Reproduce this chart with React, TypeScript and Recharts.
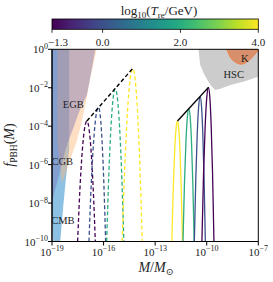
import React from 'react';
import { ComposedChart, Area, Line, XAxis, YAxis, ReferenceArea, ReferenceDot } from 'recharts';

// log10(M/Msun), lower log10 f, upper log10 f
type Band = [number, number, number][];
type Pts = [number, number][];

const cmbBand: Band = [
  [-19, -8.3, 0], [-18.93, -10, 0], [-18.52, -10, 0], [-18.35, -8.2, 0], [-18.2, -6.8, 0], [-18.0, -5.2, 0],
];
const cgbBand: Band = [
  [-18.7, -4.7, 0], [-18.42, -7.0, 0], [-18.0, -5.9, 0], [-17.55, -4.75, 0], [-17.3, -3.9, 0],
  [-17.0, -2.6, 0], [-16.75, -1.4, 0], [-16.48, -0.3, 0], [-16.4, 0, 0],
];
const egbBand: Band = [
  [-19, -7.9, 0], [-18.6, -6.6, 0], [-18.3, -5.5, 0], [-18.1, -4.9, 0], [-17.8, -4.2, 0],
  [-17.4, -3.2, 0], [-16.97, -2.38, 0], [-16.7, -1.1, 0], [-16.48, 0, 0],
];
const hscBand: Band = [
  [-10.48, 0, 0], [-10.38, -0.82, 0], [-10.15, -1.3, 0], [-9.9, -1.69, 0], [-9.7, -1.95, 0],
  [-9.51, -2.12, 0], [-9.2, -2.05, 0], [-8.75, -1.89, 0], [-8.3, -1.78, 0], [-7.88, -1.69, 0],
  [-7.4, -1.55, 0], [-7.0, -1.43, 0],
];
const kBand: Band = [
  [-8.83, 0, 0], [-8.63, -0.4, 0], [-8.34, -0.66, 0], [-7.99, -0.77, 0], [-7.59, -0.61, 0],
  [-7.24, -0.3, 0], [-7.0, -0.04, 0],
];

// log10(T_re/GeV) of each curve
const treDashed = [-1.3, 0, 2, 4];
const treSolid = [4, 2, 0, -1.3];

const dashedCurves: Pts[] = [
  [[-17.51, -10], [-17.375, -7.26], [-17.24, -5.3], [-17.105, -4.12], [-16.97, -3.73], [-16.848, -4.12], [-16.725, -5.3], [-16.603, -7.26], [-16.48, -10]],
  [[-16.85, -10], [-16.713, -6.94], [-16.575, -4.75], [-16.438, -3.44], [-16.3, -3.0], [-16.195, -3.44], [-16.09, -4.75], [-15.985, -6.94], [-15.88, -10]],
  [[-15.82, -10], [-15.695, -6.52], [-15.57, -4.04], [-15.445, -2.55], [-15.32, -2.05], [-15.195, -2.55], [-15.07, -4.04], [-14.945, -6.52], [-14.82, -10]],
  [[-14.92, -10], [-14.765, -6.06], [-14.61, -3.25], [-14.455, -1.56], [-14.3, -1.0], [-14.163, -1.56], [-14.025, -3.25], [-13.888, -6.06], [-13.75, -10]],
];
const solidCurves: Pts[] = [
  [[-12.03, -10], [-11.948, -7.26], [-11.865, -5.3], [-11.783, -4.12], [-11.7, -3.73], [-11.628, -4.12], [-11.555, -5.3], [-11.483, -7.26], [-11.41, -10]],
  [[-11.38, -10], [-11.295, -6.98], [-11.21, -4.83], [-11.125, -3.53], [-11.04, -3.1], [-10.963, -3.53], [-10.885, -4.83], [-10.808, -6.98], [-10.73, -10]],
  [[-10.72, -10], [-10.635, -6.71], [-10.55, -4.35], [-10.465, -2.94], [-10.38, -2.47], [-10.305, -2.94], [-10.23, -4.35], [-10.155, -6.71], [-10.08, -10]],
  [[-10.28, -10], [-10.185, -6.49], [-10.09, -3.99], [-9.995, -2.48], [-9.9, -1.98], [-9.82, -2.48], [-9.74, -3.99], [-9.66, -6.49], [-9.58, -10]],
];
const dashedEnvelope: Pts = [[-16.97, -3.73], [-14.3, -0.99]];
const solidEnvelope: Pts = [[-11.7, -3.73], [-9.9, -1.98]];

const regionLabels: { name: string; x: number; y: number }[] = [
  { name: 'EGB', x: -17.76, y: -2.85 },
  { name: 'CGB', x: -18.4, y: -5.82 },
  { name: 'CMB', x: -18.37, y: -8.89 },
  { name: 'HSC', x: -8.43, y: -1.31 },
  { name: 'K', x: -7.79, y: -0.45 },
];

const xTicks = [-19, -16, -13, -10, -7];
const yTicks = [-10, -8, -6, -4, -2, 0];
const cbTicks = [-1.3, 0, 2, 4];
const cbMin = -1.3;
const cbMax = 4;

const VIRIDIS = ['#440154', '#482475', '#414487', '#355f8d', '#2a788e', '#21918c', '#22a884', '#44bf70', '#7ad151', '#bddf26', '#fde725'];

const viridis = (t: number) => {
  const s = Math.max(0, Math.min(1, t)) * 10;
  const i = Math.min(9, Math.floor(s));
  const f = s - i;
  const a = VIRIDIS[i];
  const b = VIRIDIS[i + 1];
  const ch = (h: string, k: number) => parseInt(h.slice(1 + 2 * k, 3 + 2 * k), 16);
  const out = [0, 1, 2].map(k => Math.round(ch(a, k) + (ch(b, k) - ch(a, k)) * f).toString(16).padStart(2, '0'));
  return '#' + out.join('');
};
const treColor = (v: number) => viridis((v - cbMin) / (cbMax - cbMin));

const band = (b: Band) => b.map(([x, lo, hi]) => ({ x, r: [lo, hi] }));
const pts = (p: Pts) => p.map(([x, y]) => ({ x, y }));

const FONT = '"Liberation Serif", "DejaVu Serif", serif';

const pow = (v: number) => (v < 0 ? '\u2212' + Math.abs(v) : String(v));

const XTick = (props: any) => {
  const { x, y, payload } = props;
  return (
    <text x={x} y={y + 8} textAnchor="middle" fontFamily={FONT} fontSize={11} fill="#222">
      <tspan>10</tspan>
      <tspan dy={-4.5} fontSize={8}>{pow(payload.value)}</tspan>
    </text>
  );
};

const YTick = (props: any) => {
  const { x, y, payload } = props;
  return (
    <text x={x + 2} y={y + 4} textAnchor="end" fontFamily={FONT} fontSize={11} fill="#222">
      <tspan>10</tspan>
      <tspan dy={-4.5} fontSize={8}>{pow(payload.value)}</tspan>
    </text>
  );
};

const W = 273;
const H = 282;
const plotL = 52;
const plotR = 258.3;

const App: React.FC = () => {
  const cbX = (v: number) => plotL + ((v - cbMin) / (cbMax - cbMin)) * (plotR - plotL);
  return (
    <div style={{ position: 'absolute', left: 0, top: 0, width: W, height: H, background: '#fff' }}>
      <ComposedChart width={W} height={H} margin={{ top: 49.3, right: W - plotR, bottom: 0, left: 0 }}>
        <XAxis
          type="number"
          dataKey="x"
          domain={[-19, -7]}
          ticks={xTicks}
          interval={0}
          allowDataOverflow
          height={40.5}
          tickSize={4}
          stroke="#000"
          tick={<XTick />}
        />
        <YAxis
          type="number"
          domain={[-10, 0]}
          ticks={yTicks}
          interval={0}
          allowDataOverflow
          width={plotL}
          tickSize={4}
          stroke="#000"
          tick={<YTick />}
        />
        <Area data={band(cmbBand)} dataKey="r" type="linear" fill="#4f9fd4" fillOpacity={0.65} stroke="none" isAnimationActive={false} />
        <Area data={band(cgbBand)} dataKey="r" type="linear" fill="#fdb97d" fillOpacity={0.45} stroke="none" isAnimationActive={false} />
        <Area data={band(egbBand)} dataKey="r" type="linear" fill="#7570b3" fillOpacity={0.42} stroke="none" isAnimationActive={false} />
        <Area data={band(hscBand)} dataKey="r" type="linear" fill="#cccccc" fillOpacity={1} stroke="none" isAnimationActive={false} />
        <Area data={band(kBand)} dataKey="r" type="monotone" fill="#d98a62" fillOpacity={0.9} stroke="#ee7d3e" strokeWidth={1} isAnimationActive={false} />

        {dashedCurves.map((c, i) => (
          <Line key={'d' + i} data={pts(c)} dataKey="y" type="monotone" stroke={treColor(treDashed[i])} strokeWidth={1.3}
            strokeDasharray="4 2.5" dot={false} isAnimationActive={false} />
        ))}
        {solidCurves.map((c, i) => (
          <Line key={'s' + i} data={pts(c)} dataKey="y" type="monotone" stroke={treColor(treSolid[i])} strokeWidth={1.3}
            dot={false} isAnimationActive={false} />
        ))}
        <Line data={pts(dashedEnvelope)} dataKey="y" type="linear" stroke="#000" strokeWidth={1.4} strokeDasharray="4 2.5" dot={false} isAnimationActive={false} />
        <Line data={pts(solidEnvelope)} dataKey="y" type="linear" stroke="#000" strokeWidth={1.4} dot={false} isAnimationActive={false} />

        <ReferenceArea x1={-19} x2={-7} y1={-10} y2={0} fill="none" stroke="#000" strokeWidth={1} ifOverflow="visible" />
        {regionLabels.map(l => (
          <ReferenceDot key={l.name} x={l.x} y={l.y} r={0} fill="none" stroke="none"
            label={{ value: l.name, position: 'center', fontFamily: FONT, fontSize: 10.5, fill: '#222' }} />
        ))}
      </ComposedChart>

      <svg width={W} height={H} style={{ position: 'absolute', left: 0, top: 0, pointerEvents: 'none' }}>
        <defs>
          <linearGradient id="vir" x1="0" x2="1" y1="0" y2="0">
            {VIRIDIS.map((c, i) => (
              <stop key={i} offset={i / 10} stopColor={c} />
            ))}
          </linearGradient>
        </defs>
        <text x={159} y={15} textAnchor="middle" fontFamily={FONT} fontSize={13} fill="#222">
          <tspan>log</tspan>
          <tspan fontSize={9} dy={3}>10</tspan>
          <tspan dy={-3}>(</tspan>
          <tspan fontStyle="italic">T</tspan>
          <tspan fontSize={9} dy={3}>re</tspan>
          <tspan dy={-3}>/GeV)</tspan>
        </text>
        <rect x={plotL} y={19} width={plotR - plotL} height={10.3} fill="url(#vir)" stroke="#000" strokeWidth={0.8} />
        {cbTicks.map((v, i) => (
          <g key={v}>
            <line x1={cbX(v)} x2={cbX(v)} y1={29.3} y2={32.8} stroke="#000" strokeWidth={0.8} />
            <text x={i === 0 ? cbX(v) - 4 : cbX(v)} y={46} textAnchor={i === 0 ? 'start' : 'middle'} fontFamily={FONT} fontSize={11} fill="#222">
              {v < 0 ? '\u2212' + Math.abs(v).toFixed(1) : v.toFixed(1)}
            </text>
          </g>
        ))}
        <text transform="translate(14,145) rotate(-90)" textAnchor="middle" fontFamily={FONT} fontSize={14} fill="#222">
          <tspan fontStyle="italic">f</tspan>
          <tspan fontSize={9.5} dy={3}>PBH</tspan>
          <tspan dy={-3}>(</tspan>
          <tspan fontStyle="italic">M</tspan>
          <tspan>)</tspan>
        </text>
        <text x={156} y={272} textAnchor="middle" fontFamily={FONT} fontSize={14} fill="#222">
          <tspan fontStyle="italic">M</tspan>
          <tspan>/</tspan>
          <tspan fontStyle="italic">M</tspan>
          <tspan fontSize={9.5} dy={3}>{'\u2299'}</tspan>
        </text>
      </svg>
    </div>
  );
};

export default App;
